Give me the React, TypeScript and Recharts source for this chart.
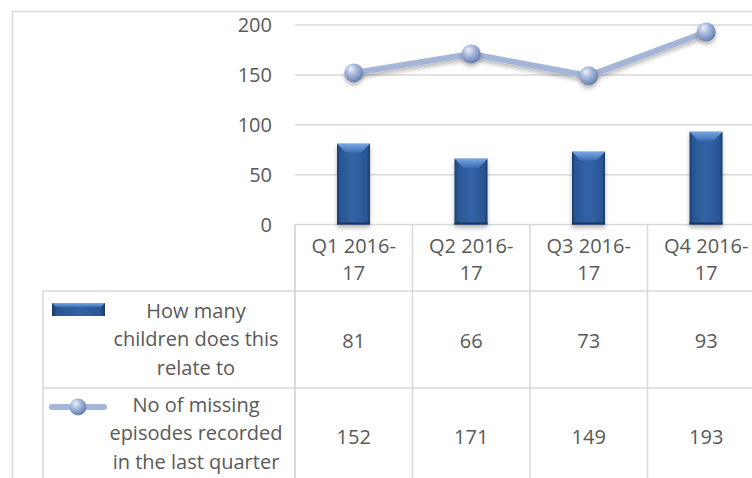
import React from "react";
import {
  ComposedChart,
  Bar,
  Line,
  XAxis,
  YAxis,
  CartesianGrid,
} from "recharts";

const quarters = ["Q1 2016-17", "Q2 2016-17", "Q3 2016-17", "Q4 2016-17"];
const childrenCount = [81, 66, 73, 93];
const missingEpisodes = [152, 171, 149, 193];
const yTicks = [0, 50, 100, 150, 200];
const barLabelLines = ["How many", "children does this", "relate to"];
const lineLabelLines = ["No of missing", "episodes recorded", "in the last quarter"];

const chartData = quarters.map((q, i) => ({
  quarter: q,
  children: childrenCount[i],
  episodes: missingEpisodes[i],
}));

const FONT = "'Open Sans', sans-serif";
const FONT_SIZE = 20;
const TEXT = "#595959";
const GRID = "#d9d9d9";
const LINE_BLUE = "#a4b5d8";
const COL_W = 117.5; // plot width 470 / 4 categories

const Defs = () => (
  <defs>
    <linearGradient id="barBody" x1="0" y1="0" x2="1" y2="0">
      <stop offset="0%" stopColor="#1b3b69" />
      <stop offset="10%" stopColor="#2a5694" />
      <stop offset="50%" stopColor="#3263a6" />
      <stop offset="90%" stopColor="#2a5694" />
      <stop offset="100%" stopColor="#1b3b69" />
    </linearGradient>
    <linearGradient id="barTop" x1="0" y1="0" x2="0" y2="1">
      <stop offset="0%" stopColor="#79a6e4" />
      <stop offset="100%" stopColor="#3b6fb6" />
    </linearGradient>
    <radialGradient id="sphere" cx="40%" cy="35%" r="65%" fx="35%" fy="28%">
      <stop offset="0%" stopColor="#eef2fa" />
      <stop offset="40%" stopColor="#adbfe0" />
      <stop offset="100%" stopColor="#6880ae" />
    </radialGradient>
    <filter id="softShadow" x="-30%" y="-30%" width="160%" height="180%">
      <feDropShadow dx="0" dy="3" stdDeviation="2" floodColor="#000" floodOpacity="0.28" />
    </filter>
  </defs>
);

const BevelBar = (props: any) => {
  const { x, y, width, height } = props;
  if (!height || height <= 0) return null;
  const b = Math.min(9, height / 2);
  return (
    <g filter="url(#softShadow)">
      <rect x={x} y={y} width={width} height={height} fill="url(#barBody)" />
      <polygon
        points={`${x},${y} ${x + width},${y} ${x + width - b},${y + b} ${x + b},${y + b}`}
        fill="url(#barTop)"
      />
      <rect x={x} y={y + height - 2} width={width} height={2} fill="#1a355c" />
    </g>
  );
};

const SphereDot = (props: any) => {
  const { cx, cy, index } = props;
  if (cx == null || cy == null) return null;
  return (
    <circle
      key={`dot-${index}`}
      cx={cx}
      cy={cy}
      r={9.5}
      fill="url(#sphere)"
      filter="url(#softShadow)"
    />
  );
};

const TableTick = (props: any) => {
  const { x, y, payload } = props;
  const i = payload.index;
  const label = String(payload.value);
  const cut = label.lastIndexOf("-") + 1;
  const half = COL_W / 2;
  const textProps = {
    x,
    textAnchor: "middle" as const,
    dominantBaseline: "central" as const,
    fill: TEXT,
    fontSize: FONT_SIZE,
    fontFamily: FONT,
  };
  return (
    <g>
      {i === 0 && <line x1={x - half} y1={y} x2={x - half} y2={y + 300} stroke={GRID} strokeWidth={1.5} />}
      <line x1={x + half} y1={y} x2={x + half} y2={y + 300} stroke={GRID} strokeWidth={1.5} />
      <text {...textProps} y={y + 20.5}>{label.slice(0, cut)}</text>
      <text {...textProps} y={y + 48}>{label.slice(cut)}</text>
      <text {...textProps} y={y + 115.5}>{childrenCount[i]}</text>
      <text {...textProps} y={y + 212}>{missingEpisodes[i]}</text>
    </g>
  );
};

const LegendOverlay = () => {
  const textProps = {
    x: 196,
    textAnchor: "middle" as const,
    dominantBaseline: "central" as const,
    fill: TEXT,
    fontSize: FONT_SIZE,
    fontFamily: FONT,
  };
  return (
    <svg
      width={752}
      height={478}
      style={{ position: "absolute", left: 0, top: 0, pointerEvents: "none" }}
    >
      <Defs />
      <rect x={12.5} y={11.5} width={800} height={600} fill="none" stroke={GRID} strokeWidth={1.5} />
      <line x1={43} y1={291} x2={752} y2={291} stroke={GRID} strokeWidth={1.5} />
      <line x1={43} y1={388} x2={752} y2={388} stroke={GRID} strokeWidth={1.5} />
      <line x1={43} y1={291} x2={43} y2={478} stroke={GRID} strokeWidth={1.5} />
      <line x1={295} y1={224.5} x2={295} y2={478} stroke={GRID} strokeWidth={1.5} />
      {/* bar series key */}
      <rect x={52} y={303} width={53} height={13} fill="url(#barBody)" />
      <polygon points="52,303 105,303 101,307 56,307" fill="url(#barTop)" />
      {barLabelLines.map((t, k) => (
        <text key={t} {...textProps} y={310 + k * 28.5}>{t}</text>
      ))}
      {/* line series key */}
      <line x1={52} y1={407} x2={104} y2={407} stroke={LINE_BLUE} strokeWidth={6} strokeLinecap="round" />
      <circle cx={78} cy={407} r={8.5} fill="url(#sphere)" />
      {lineLabelLines.map((t, k) => (
        <text key={t} {...textProps} y={404 + k * 28.5}>{t}</text>
      ))}
    </svg>
  );
};

export default function App() {
  return (
    <div
      style={{
        position: "absolute",
        left: 0,
        top: 0,
        width: 752,
        height: 478,
        overflow: "hidden",
        background: "#fff",
      }}
    >
      <ComposedChart
        width={800}
        height={520}
        data={chartData}
        margin={{ top: 25, right: 35, left: 0, bottom: 0 }}
        barCategoryGap={0}
      >
        <Defs />
        <CartesianGrid vertical={false} stroke={GRID} strokeWidth={1.5} />
        <YAxis
          domain={[0, 200]}
          ticks={yTicks}
          width={295}
          axisLine={false}
          tickLine={false}
          tickSize={0}
          tickMargin={23}
          interval={0}
          tick={{ fill: TEXT, fontSize: FONT_SIZE, fontFamily: FONT }}
        />
        <XAxis
          dataKey="quarter"
          height={295.5}
          axisLine={false}
          tickLine={false}
          tickSize={0}
          tickMargin={0}
          interval={0}
          tick={<TableTick />}
        />
        <Bar
          dataKey="children"
          barSize={33}
          shape={<BevelBar />}
          isAnimationActive={false}
        />
        <Line
          dataKey="episodes"
          stroke={LINE_BLUE}
          strokeWidth={6}
          dot={<SphereDot />}
          activeDot={false}
          filter="url(#softShadow)"
          isAnimationActive={false}
        />
      </ComposedChart>
      <LegendOverlay />
    </div>
  );
}
